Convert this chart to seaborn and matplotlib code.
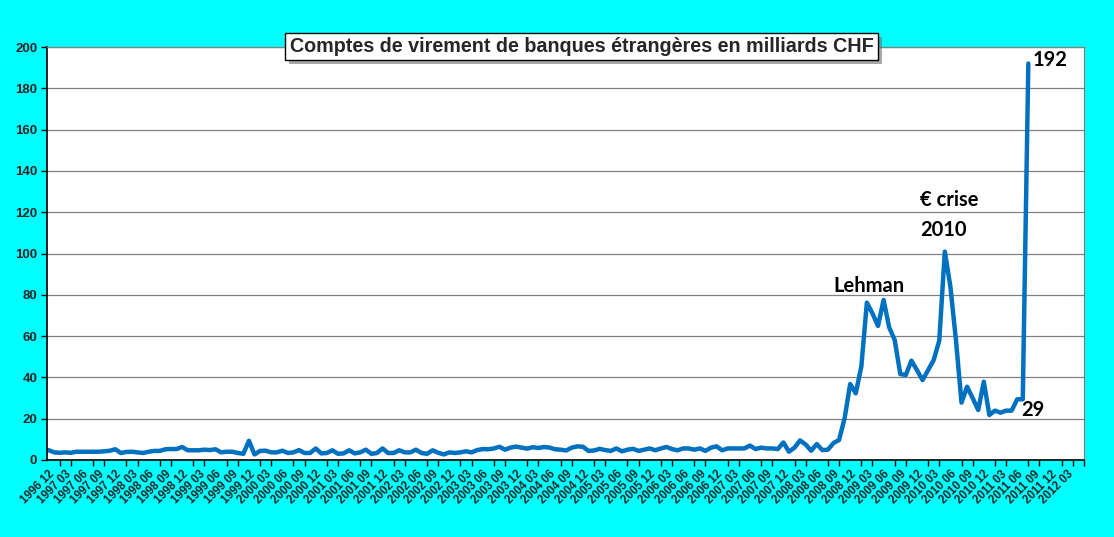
import numpy as np
import pandas as pd
import matplotlib.pyplot as plt
import seaborn as sns
from matplotlib.patches import Rectangle

# Comptes de virement de banques etrangeres, mrd CHF, monthly 1996-12 .. 2011-08
v_1996 = [4.8]
v_1997 = [3.7, 3.5, 3.7, 3.5, 4.0, 4.0, 4.0, 4.0, 4.0, 4.2, 4.5, 5.2]
v_1998 = [3.4, 3.9, 4.0, 3.7, 3.4, 4.0, 4.4, 4.4, 5.2, 5.3, 5.3, 6.3]
v_1999 = [4.7, 4.7, 4.7, 5.0, 4.8, 5.2, 3.7, 4.0, 4.0, 3.4, 3.0, 9.3]
v_2000 = [2.7, 4.4, 4.5, 3.7, 3.7, 4.5, 3.4, 3.7, 4.8, 3.4, 3.4, 5.6]
v_2001 = [3.2, 3.4, 4.7, 3.0, 3.2, 4.7, 3.2, 3.7, 5.0, 3.0, 3.4, 5.6]
v_2002 = [3.4, 3.4, 4.7, 3.7, 3.7, 5.0, 3.4, 3.0, 4.7, 3.5, 2.7, 3.7]
v_2003 = [3.4, 3.7, 4.2, 3.7, 4.8, 5.3, 5.2, 5.6, 6.4, 5.0, 6.0, 6.5]
v_2004 = [6.0, 5.5, 6.2, 5.8, 6.3, 6.0, 5.2, 5.0, 4.6, 6.0, 6.6, 6.4]
v_2005 = [4.4, 4.6, 5.4, 4.8, 4.4, 5.6, 4.2, 5.0, 5.4, 4.4, 5.0, 5.6]
v_2006 = [4.7, 5.6, 6.3, 5.3, 4.7, 5.6, 5.6, 5.0, 5.6, 4.4, 6.0, 6.6]
v_2007 = [4.7, 5.6, 5.6, 5.6, 5.6, 7.0, 5.3, 6.0, 5.6, 5.6, 5.3, 8.5]
v_2008 = [4.0, 6.0, 9.5, 7.5, 4.5, 7.7, 4.8, 5.0, 8.2, 9.7, 20.2, 36.8]
v_2009 = [32.3, 45.2, 76.2, 71.0, 64.9, 77.5, 64.3, 58.1, 41.6, 41.2, 48.1, 43.5]
v_2010 = [38.7, 43.5, 48.4, 57.8, 100.9, 84.0, 58.0, 27.8, 35.5, 30.0, 24.2, 37.9]
v_2011 = [21.8, 23.9, 22.9, 23.9, 23.9, 29.4, 29.4, 192.0]

values = (v_1996 + v_1997 + v_1998 + v_1999 + v_2000 + v_2001 + v_2002 + v_2003
          + v_2004 + v_2005 + v_2006 + v_2007 + v_2008 + v_2009 + v_2010 + v_2011)

# category axis runs on to 2012-05, labelled every 3 months
axis_months = pd.period_range('1996-12', '2012-05', freq='M')
tick_labels = [p.strftime('%Y %m') for p in axis_months[::3]]

title = "Comptes de virement de banques étrangères en milliards CHF"
notes = ["Lehman", "€ crise", "2010", "192", "29"]

df = pd.DataFrame({'month': np.arange(len(values)), 'value': values})

sns.set_theme(style='white')
plt.rcParams['font.family'] = ['Liberation Sans', 'DejaVu Sans']

fig = plt.figure(figsize=(11.14, 5.37), dpi=100, facecolor='#00FFFF')
ax = fig.add_axes([47 / 1114, 77 / 537, 1037 / 1114, 413 / 537])
ax.set_facecolor('white')

sns.lineplot(data=df, x='month', y='value', ax=ax, color='#0070C0', lw=3.2)

ax.set_ylim(0, 200)
ax.set_yticks(range(0, 201, 20))
ax.set_xlim(-0.27, 185.9)
ax.set_xticks(range(0, len(axis_months), 3))
ax.set_xticklabels(tick_labels, rotation=45, ha='right', rotation_mode='anchor',
                   fontsize=8.3, fontweight='bold')
ax.set_xticks(range(0, 187, 2), minor=True)
ax.tick_params(axis='x', which='major', length=0, pad=6)
ax.tick_params(axis='x', which='minor', length=4, width=1, color='black', bottom=True)
ax.tick_params(axis='y', length=4, width=1, color='black', left=True, pad=3)
for lab in ax.get_yticklabels():
    lab.set_fontweight('bold')
    lab.set_fontsize(9.5)
ax.set_xlabel('')
ax.set_ylabel('')

ax.grid(axis='y', color='#808080', lw=0.9)
ax.set_axisbelow(True)
for side in ['left', 'bottom']:
    ax.spines[side].set_color('black')
    ax.spines[side].set_linewidth(1.2)
for side in ['top', 'right']:
    ax.spines[side].set_color('#808080')
    ax.spines[side].set_linewidth(0.9)

# title box, then a drop shadow patch behind it
ttl = fig.text(0.522, 0.9134, title, ha='center', va='center', fontsize=14.2, fontweight='bold',
               zorder=5, bbox=dict(boxstyle='square,pad=0.22', fc='white', ec='black', lw=1))
fig.canvas.draw()
bb = ttl.get_bbox_patch().get_window_extent()
fig.patches.append(Rectangle((bb.x0 + 4, bb.y0 - 4), bb.width, bb.height, transform=None,
                             fc='#6f6f6f', ec='none', alpha=0.6, zorder=4))

note_font = dict(fontsize=14.5, fontweight='bold', family=['Lato', 'DejaVu Sans'], color='black')
ax.text(147.3, 84.5, notes[0], ha='center', va='center', **note_font)
ax.text(156.5, 125.9, notes[1], ha='left', va='center', **note_font)
ax.text(156.5, 111.4, notes[2], ha='left', va='center', **note_font)
ax.text(176.8, 193.7, notes[3], ha='left', va='center', **note_font)
ax.text(174.8, 24.2, notes[4], ha='left', va='center', **note_font)

fig.savefig('out.png', dpi=100, facecolor=fig.get_facecolor())
